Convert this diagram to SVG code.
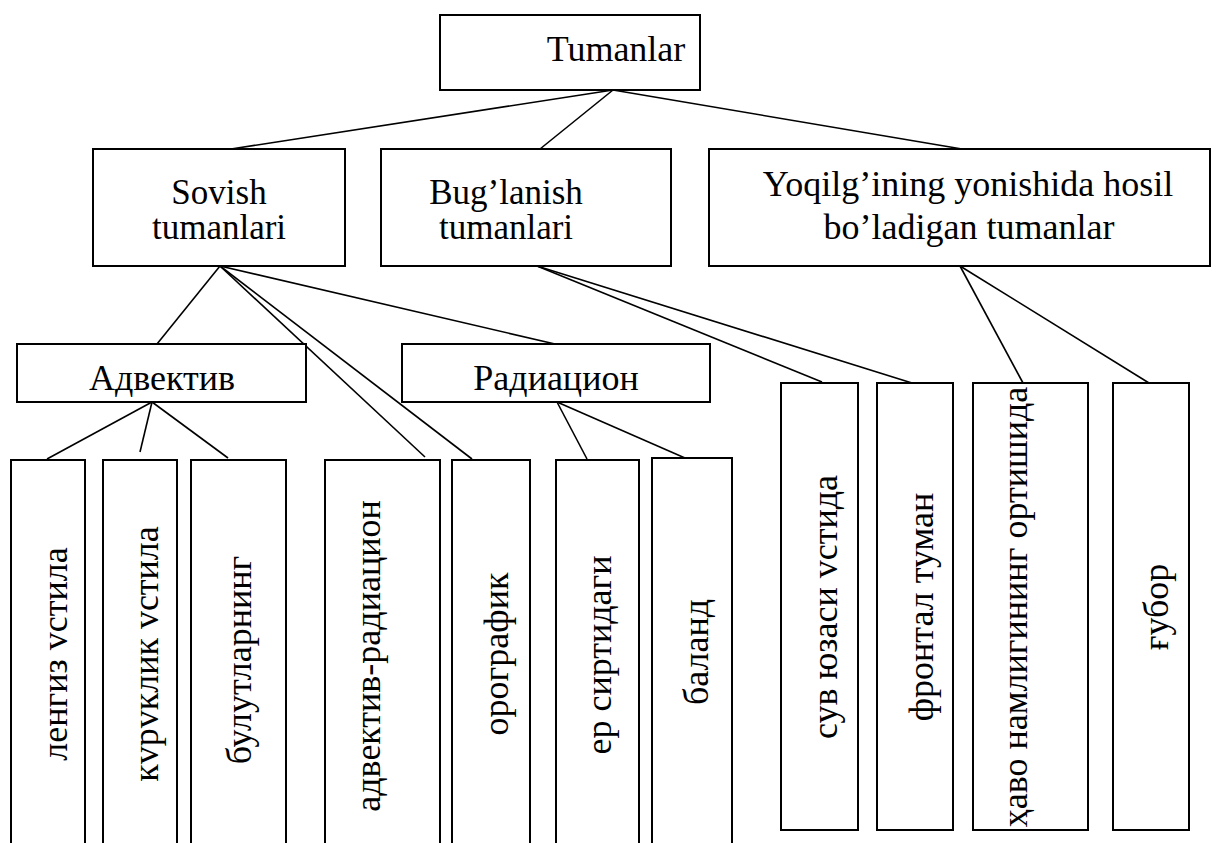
<svg xmlns="http://www.w3.org/2000/svg" width="1216" height="843" viewBox="0 0 1216 843">
<style>
.box{fill:#fff;stroke:#000;stroke-width:2}
.t{font-family:'Liberation Serif','Times New Roman',serif;font-size:36px;fill:#000;text-anchor:middle}
.m{font-size:35px}
.c line{stroke:#000;stroke-width:1.6}
</style>
<rect width="1216" height="843" fill="#fff"/>
<g class="c" id="connectors">
<line x1="613" y1="90" x2="231" y2="149"/>
<line x1="613" y1="90" x2="540" y2="149"/>
<line x1="613" y1="90" x2="962" y2="149"/>
<line x1="220" y1="266" x2="157" y2="344"/>
<line x1="220" y1="266" x2="425" y2="457"/>
<line x1="220" y1="266" x2="472" y2="459"/>
<line x1="220" y1="266" x2="555" y2="344"/>
<line x1="152" y1="402" x2="47" y2="459"/>
<line x1="152" y1="402" x2="140" y2="452"/>
<line x1="152" y1="402" x2="228" y2="458"/>
<line x1="557" y1="402" x2="587" y2="459"/>
<line x1="557" y1="402" x2="685" y2="458"/>
<line x1="537" y1="266" x2="822" y2="382"/>
<line x1="537" y1="266" x2="912" y2="383"/>
<line x1="960" y1="266" x2="1023" y2="383"/>
<line x1="960" y1="266" x2="1149" y2="383"/>
</g>
<g id="tumanlar"><rect class="box" x="440" y="15" width="260" height="75"/><text class="t" x="616" y="61">Tumanlar</text></g>
<g id="sovish"><rect class="box" x="93" y="149" width="252" height="117"/><text class="t m" x="219" y="204">Sovish</text><text class="t m" x="219" y="239">tumanlari</text></g>
<g id="buglanish"><rect class="box" x="381" y="149" width="290" height="117"/><text class="t m" x="506" y="204">Bug’lanish</text><text class="t m" x="506" y="239">tumanlari</text></g>
<g id="yoqilg"><rect class="box" x="709" y="149" width="501" height="117"/><text class="t" x="968" y="196">Yoqilg’ining yonishida hosil</text><text class="t" x="969" y="239">bo’ladigan tumanlar</text></g>
<g id="advektiv"><rect class="box" x="17" y="344" width="289" height="58"/><text class="t" x="162" y="390">Адвектив</text></g>
<g id="radiacion"><rect class="box" x="402" y="344" width="308" height="58"/><text class="t" x="556" y="390">Радиацион</text></g>
<g id="dengiz"><rect class="box" x="11" y="460" width="74" height="400"/><text class="t" transform="translate(67,654) rotate(-90)">ленгиз vстила</text></g>
<g id="kuruklik"><rect class="box" x="103" y="460" width="74" height="400"/><text class="t" transform="translate(158,654) rotate(-90)">кvрvклик vстила</text></g>
<g id="bulutlar"><rect class="box" x="191" y="460" width="95" height="400"/><text class="t" transform="translate(251,660) rotate(-90)">булутларнинг</text></g>
<g id="adv-rad"><rect class="box" x="325" y="460" width="115" height="400"/><text class="t" transform="translate(380,656) rotate(-90)">адвектив-радиацион</text></g>
<g id="orografik"><rect class="box" x="452" y="460" width="78" height="400"/><text class="t" transform="translate(508,654) rotate(-90)">орографик</text></g>
<g id="er"><rect class="box" x="556" y="460" width="83" height="400"/><text class="t" transform="translate(611,655) rotate(-90)">ер сиртидаги</text></g>
<g id="baland"><rect class="box" x="652" y="458" width="80" height="400"/><text class="t" transform="translate(708,652) rotate(-90)">баланд</text></g>
<g id="suv"><rect class="box" x="781" y="383" width="77" height="447"/><text class="t" transform="translate(837,607) rotate(-90)">сув юзаси vстида</text></g>
<g id="frontal"><rect class="box" x="877" y="383" width="76" height="447"/><text class="t" transform="translate(933,607) rotate(-90)">фронтал туман</text></g>
<g id="havo"><rect class="box" x="973" y="383" width="115" height="447"/><text class="t" transform="translate(1027,607) rotate(-90)">ҳаво намлигининг ортишида</text></g>
<g id="gubor"><rect class="box" x="1113" y="383" width="76" height="447"/><text class="t" transform="translate(1168,607) rotate(-90)">ғубор</text></g>
</svg>
